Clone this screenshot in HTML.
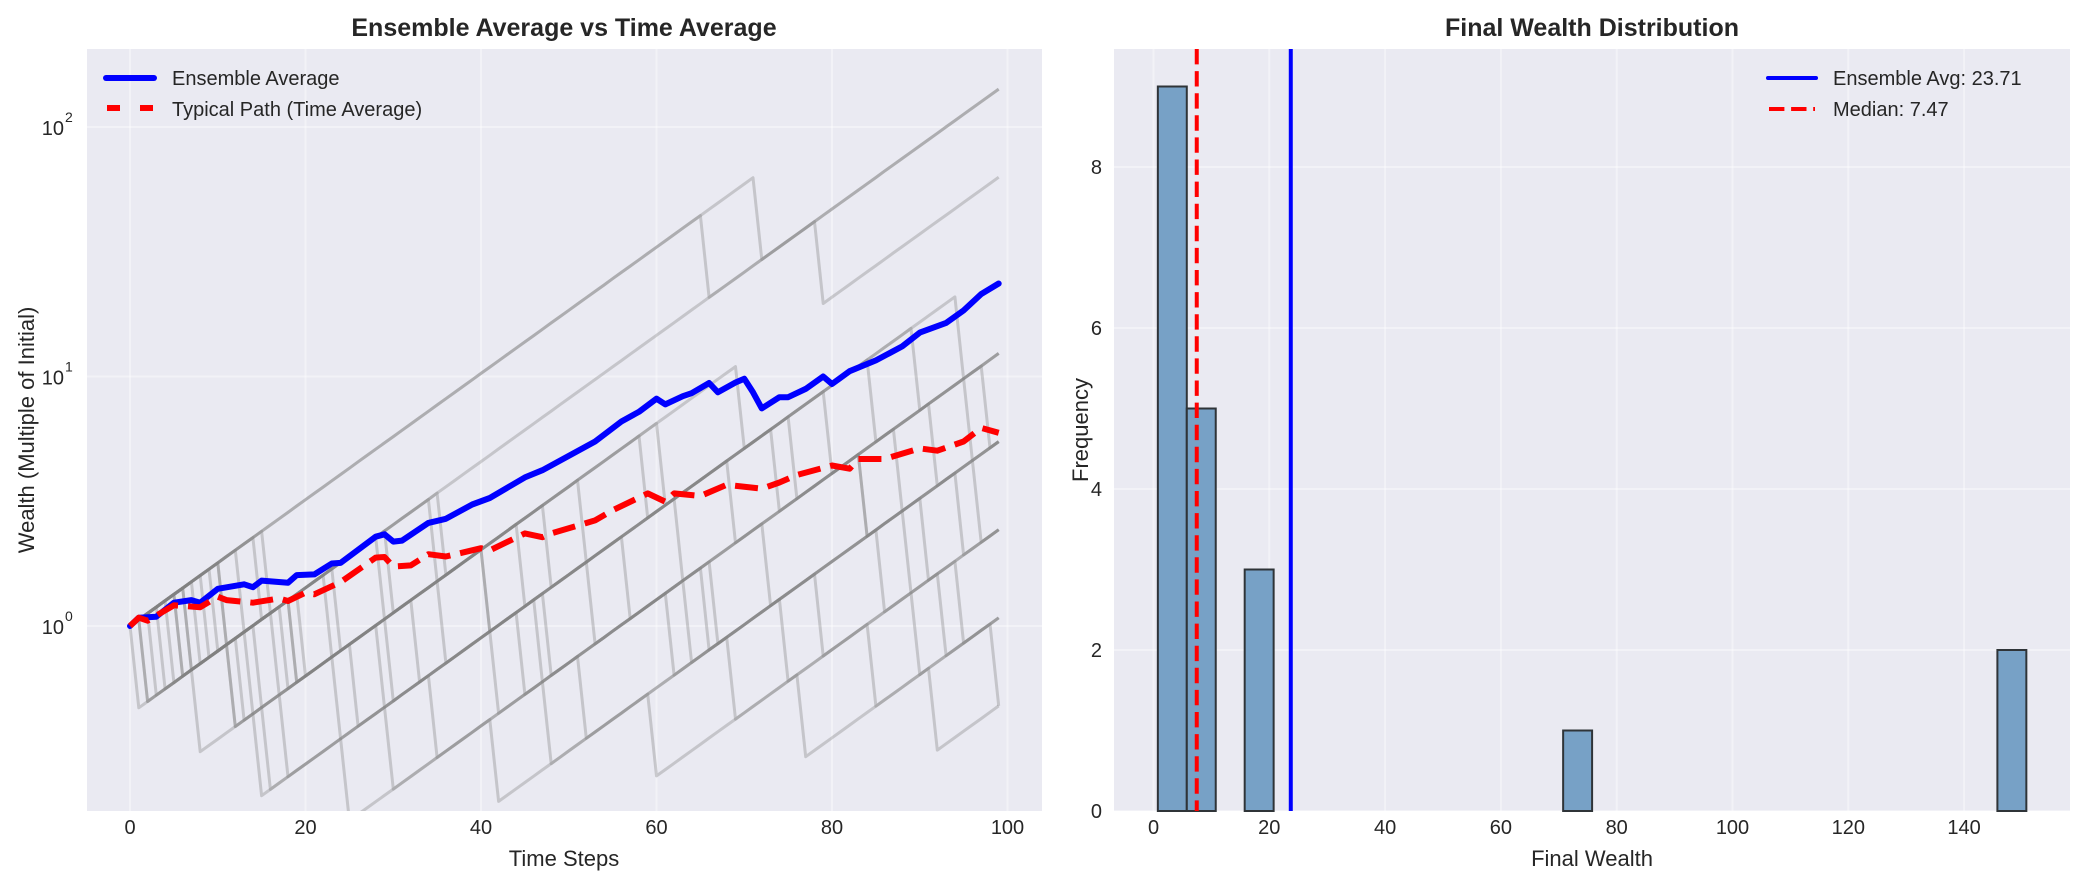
<!DOCTYPE html>
<html><head><meta charset="utf-8"><style>
html,body{margin:0;padding:0;background:#fff;}
svg{display:block;font-family:"Liberation Sans",sans-serif;}
</style></head><body>
<svg id="fig" width="2084" height="884" viewBox="0 0 2084 884">
  <g id="left"></g>
  <g id="right"></g>
</svg>
<script>
// ---- Left chart data ----
const upFactor = 1.06;
const downFactor = 0.47;
const nSteps = 100;
const pathCrashes = [
  [72],[66],[2,79],
  [11,30,61,90],[6,23,45,85],[15,36,70,95],
  [8,18,41,63,88],[3,29,52,74,96],[13,35,48,69,92],[7,19,30,76,84],[16,24,59,80,98],
  [1,12,29,47,64,91],[9,17,36,53,73,89],[6,14,26,45,67,95],[10,20,41,57,84,97],
  [7,13,18,35,52,79,93],[5,15,24,42,62,75,90],[11,19,33,48,66,86,95],
  [2,8,15,25,42,60,85,99],[4,12,16,30,48,69,77,92]
];
const ensSteps = [0,1,3,5,7,8,10,13,14,15,18,19,21,23,24,28,29,30,31,34,36,39,41,45,47,53,56,58,60,61,63,64,66,67,69,70,71,72,74,75,77,79,80,82,85,88,90,93,95,97,99];
const ensValues = [1.00,1.08,1.09,1.24,1.27,1.24,1.41,1.47,1.43,1.52,1.49,1.60,1.61,1.78,1.79,2.28,2.33,2.18,2.20,2.59,2.69,3.07,3.26,3.94,4.21,5.49,6.60,7.22,8.15,7.73,8.34,8.57,9.42,8.64,9.46,9.80,8.64,7.45,8.26,8.26,8.92,10.0,9.33,10.5,11.6,13.2,15.0,16.4,18.4,21.4,23.6];
const typSteps = [0,1,2,5,8,10,11,14,17,18,20,21,24,28,29,30,32,34,36,40,41,45,47,48,53,55,59,61,62,65,68,72,74,76,80,82,83,86,90,92,95,97,99];
const typValues = [1.00,1.08,1.05,1.21,1.19,1.31,1.27,1.24,1.29,1.26,1.36,1.34,1.50,1.88,1.89,1.73,1.75,1.94,1.90,2.05,2.01,2.35,2.27,2.35,2.65,2.91,3.40,3.15,3.40,3.32,3.68,3.55,3.76,4.03,4.40,4.27,4.67,4.67,5.15,5.04,5.49,6.22,5.95];
const xTicksL = [0,20,40,60,80,100];
const yTicksL = [0,1,2]; // log10 exponents

// ---- Right chart data ----
const binStart = 0.75;
const binWidth = 5.0;
const binCounts = [9,5,0,3,0,0,0,0,0,0,0,0,0,0,1,0,0,0,0,0,0,0,0,0,0,0,0,0,0,2];
const ensembleAvg = 23.71;
const medianVal = 7.47;
const xTicksR = [0,20,40,60,80,100,120,140];
const yTicksR = [0,2,4,6,8];

const NS='http://www.w3.org/2000/svg';
function mk(tag, attrs, parent){const e=document.createElementNS(NS,tag);for(const k in attrs)e.setAttribute(k,attrs[k]);parent.appendChild(e);return e;}
const GRID_OP=0.4;

// ---- Left axes ----
const L={x0:87,x1:1042,y0:49,y1:811};
const xL = s => 130 + s*8.775;
const yL = v => 626 - Math.log10(v)*249.5;
const gL=document.getElementById('left');
let bg=mk('rect',{x:L.x0,y:L.y0,width:L.x1-L.x0,height:L.y1-L.y0,fill:'#EAEAF2'},gL);


xTicksL.forEach(t=>{
  let l=mk('line',{x1:xL(t),x2:xL(t),y1:L.y0,y2:L.y1,stroke:'#fff','stroke-opacity':GRID_OP,'stroke-width':2},gL);
  
  
  let tx=mk('text',{x:xL(t),y:834,'font-size':20,fill:'#262626','text-anchor':'middle'},gL);
  tx.textContent=t;
  
  
});
yTicksL.forEach(e=>{
  const y=yL(Math.pow(10,e));
  let l=mk('line',{x1:L.x0,x2:L.x1,y1:y,y2:y,stroke:'#fff','stroke-opacity':GRID_OP,'stroke-width':2},gL);
  
  
  let tx=mk('text',{x:64,y:y+8,'font-size':20,fill:'#262626','text-anchor':'end'},gL);
  tx.textContent='10';
  
  
  let sp=mk('text',{x:65,y:y-5,'font-size':14,fill:'#262626'},gL);
  sp.textContent=String(e);
  
  
});
const defs=mk('defs',{},document.getElementById('fig'));
const cp=mk('clipPath',{id:'clipL'},defs);
mk('rect',{x:L.x0,y:L.y0,width:L.x1-L.x0,height:L.y1-L.y0},cp);
const plotL=mk('g',{'clip-path':'url(#clipL)'},gL);
pathCrashes.forEach((cr,i)=>{
  let v=1, pts=[[xL(0),yL(1)]];
  for(let t=1;t<nSteps;t++){ v*= cr.includes(t)?downFactor:upFactor; pts.push([xL(t),yL(v)]); }
  let p=mk('polyline',{points:pts.map(q=>q[0].toFixed(1)+','+q[1].toFixed(1)).join(' '),fill:'none',stroke:'#808080','stroke-opacity':0.35,'stroke-width':3,'stroke-linejoin':'round'},plotL);
  
  
});
let ens=mk('polyline',{points:ensSteps.map((s,i)=>xL(s).toFixed(1)+','+yL(ensValues[i]).toFixed(1)).join(' '),fill:'none',stroke:'#0000FF','stroke-width':6,'stroke-linejoin':'round','stroke-linecap':'round'},plotL);


let typ=mk('polyline',{points:typSteps.map((s,i)=>xL(s).toFixed(1)+','+yL(typValues[i]).toFixed(1)).join(' '),fill:'none',stroke:'#FF0000','stroke-width':6,'stroke-dasharray':'23 10','stroke-linejoin':'round'},plotL);


let lg=mk('g',{},gL);


mk('line',{x1:106,x2:154,y1:78,y2:78,stroke:'#0000FF','stroke-width':6,'stroke-linecap':'round'},lg);
mk('line',{x1:107,x2:153,y1:108,y2:108,stroke:'#FF0000','stroke-width':6,'stroke-dasharray':'13 20'},lg);
let t1=mk('text',{x:172,y:85,'font-size':20,fill:'#262626'},lg);t1.textContent='Ensemble Average';


let t2=mk('text',{x:172,y:116,'font-size':20,fill:'#262626'},lg);t2.textContent='Typical Path (Time Average)';


let ttl=mk('text',{x:564,y:36,'font-size':25,'font-weight':'bold',fill:'#262626','text-anchor':'middle'},gL);
ttl.textContent='Ensemble Average vs Time Average';


let xl=mk('text',{x:564,y:866,'font-size':22,fill:'#262626','text-anchor':'middle'},gL);
xl.textContent='Time Steps';


let yl=mk('text',{x:0,y:0,'font-size':22,fill:'#262626','text-anchor':'middle',transform:'translate(34,430) rotate(-90)'},gL);
yl.textContent='Wealth (Multiple of Initial)';



// ---- Right axes ----
const R={x0:1114,x1:2070,y0:49,y1:811};
const xR = v => 1153.5 + v*5.79;
const yR = c => 811 - c*80.5;
const gR=document.getElementById('right');
let bg2=mk('rect',{x:R.x0,y:R.y0,width:R.x1-R.x0,height:R.y1-R.y0,fill:'#EAEAF2'},gR);


xTicksR.forEach(t=>{
  let l=mk('line',{x1:xR(t),x2:xR(t),y1:R.y0,y2:R.y1,stroke:'#fff','stroke-opacity':GRID_OP,'stroke-width':2},gR);
  
  
  let tx=mk('text',{x:xR(t),y:834,'font-size':20,fill:'#262626','text-anchor':'middle'},gR);
  tx.textContent=t;
  
  
});
yTicksR.forEach(t=>{
  let l=mk('line',{x1:R.x0,x2:R.x1,y1:yR(t),y2:yR(t),stroke:'#fff','stroke-opacity':GRID_OP,'stroke-width':2},gR);
  
  
  let tx=mk('text',{x:1102,y:yR(t)+7,'font-size':20,fill:'#262626','text-anchor':'end'},gR);
  tx.textContent=t;
  
  
});
binCounts.forEach((c,i)=>{
  const a=xR(binStart+i*binWidth), b=xR(binStart+(i+1)*binWidth);
  let r=mk('rect',{x:a,y:yR(c),width:b-a,height:yR(0)-yR(c),fill:'#77A1C6',stroke:'#2F3438','stroke-width':2},gR);
  
  
});
let avl=mk('line',{x1:xR(ensembleAvg),x2:xR(ensembleAvg),y1:R.y0,y2:R.y1,stroke:'#0000FF','stroke-width':4},gR);


let mdl=mk('line',{x1:xR(medianVal),x2:xR(medianVal),y1:R.y0,y2:R.y1,stroke:'#FF0000','stroke-width':4,'stroke-dasharray':'15.4 6.7'},gR);


let lg2=mk('g',{},gR);


mk('line',{x1:1768,x2:1816,y1:78,y2:78,stroke:'#0000FF','stroke-width':4,'stroke-linecap':'round'},lg2);
mk('line',{x1:1769,x2:1815,y1:109,y2:109,stroke:'#FF0000','stroke-width':4,'stroke-dasharray':'15.4 6.7'},lg2);
let t3=mk('text',{x:1833,y:85,'font-size':20,fill:'#262626'},lg2);t3.textContent='Ensemble Avg: 23.71';


let t4=mk('text',{x:1833,y:116,'font-size':20,fill:'#262626'},lg2);t4.textContent='Median: 7.47';


let ttl2=mk('text',{x:1592,y:36,'font-size':25,'font-weight':'bold',fill:'#262626','text-anchor':'middle'},gR);
ttl2.textContent='Final Wealth Distribution';


let xl2=mk('text',{x:1592,y:866,'font-size':22,fill:'#262626','text-anchor':'middle'},gR);
xl2.textContent='Final Wealth';


let yl2=mk('text',{x:0,y:0,'font-size':22,fill:'#262626','text-anchor':'middle',transform:'translate(1088,430) rotate(-90)'},gR);
yl2.textContent='Frequency';


</script>
</body></html>
